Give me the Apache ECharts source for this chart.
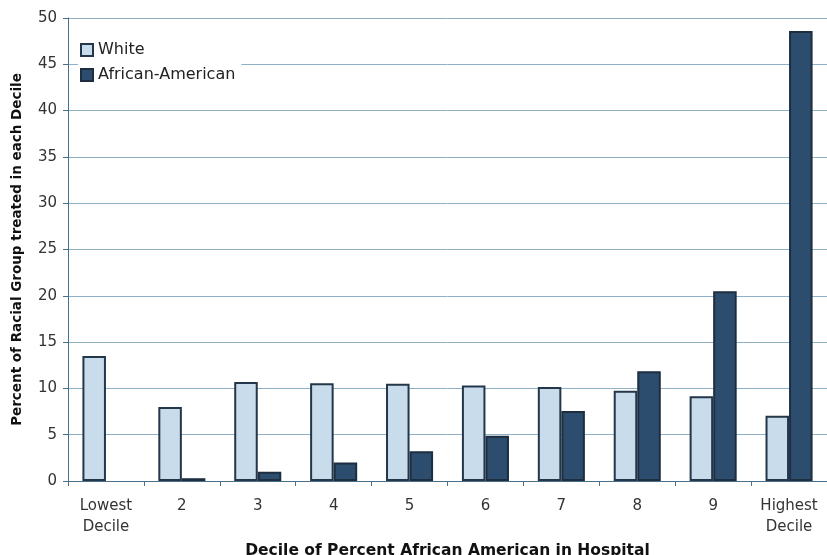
<!DOCTYPE html>
<html>
<head>
<meta charset="utf-8">
<script src="https://cdn.jsdelivr.net/npm/echarts@6/dist/echarts.min.js"></script>
<style>
  html, body { margin: 0; padding: 0; background: #fff; }
  #chart { width: 827px; height: 555px; }
</style>
</head>
<body>
<div id="chart"></div>
<script>
// 数据
const deciles = ["Lowest\nDecile", "2", "3", "4", "5", "6", "7", "8", "9", "Highest\nDecile"];
const white = [13.5, 8.0, 10.7, 10.55, 10.5, 10.3, 10.15, 9.75, 9.15, 7.05];
// 最低十分位没有可见的柱子
const africanAmerican = [null, 0.3, 1.0, 2.0, 3.2, 4.9, 7.55, 11.85, 20.5, 48.6];

const myChart = echarts.init(document.getElementById("chart"));

const option = {
  animation: false,
  textStyle: { fontFamily: "DejaVu Sans" },
  grid: { left: 68, right: 0, top: 18, bottom: 74, outerBoundsMode: "none" },
  legend: {
    left: 78,
    top: 40,
    orient: "vertical",
    icon: "rect",
    itemWidth: 12,
    itemHeight: 12,
    itemGap: 9,
    backgroundColor: "#fff",
    padding: [2, 6, 2, 2],
    textStyle: { fontSize: 16, color: "#222" },
    data: ["White", "African-American"],
  },
  xAxis: {
    type: "category",
    data: deciles,
    name: "Decile of Percent African American in Hospital",
    nameLocation: "middle",
    nameGap: 60,
    nameTextStyle: { fontWeight: "bold", fontSize: 15.5, color: "#111" },
    axisLine: { lineStyle: { color: "#4a6f8a", width: 1 } },
    axisTick: { show: true, length: 5, lineStyle: { color: "#4a6f8a" } },
    axisLabel: { fontSize: 15, color: "#333", lineHeight: 21, margin: 15 },
  },
  yAxis: {
    type: "value",
    min: 0,
    max: 50,
    interval: 5,
    name: "Percent of Racial Group treated in each Decile",
    nameLocation: "middle",
    nameGap: 44,
    nameTextStyle: { fontWeight: "bold", fontSize: 13.5, color: "#111" },
    axisLine: { show: true, lineStyle: { color: "#4a6f8a", width: 1 } },
    axisTick: { show: true, length: 5, lineStyle: { color: "#4a6f8a" } },
    axisLabel: { fontSize: 15, color: "#333", margin: 11 },
    splitLine: { lineStyle: { color: "#8fb0c6", width: 1 } },
  },
  series: [
    {
      name: "White",
      type: "bar",
      data: white,
      barGap: "0%",
      barCategoryGap: "38%",
      itemStyle: { color: "#c8dceb", borderColor: "#23364a", borderWidth: 2 },
    },
    {
      name: "African-American",
      type: "bar",
      data: africanAmerican,
      barGap: "0%",
      barCategoryGap: "38%",
      itemStyle: { color: "#2c4d6e", borderColor: "#1c2e40", borderWidth: 2 },
    },
  ],
};

myChart.setOption(option);
</script>
</body>
</html>
